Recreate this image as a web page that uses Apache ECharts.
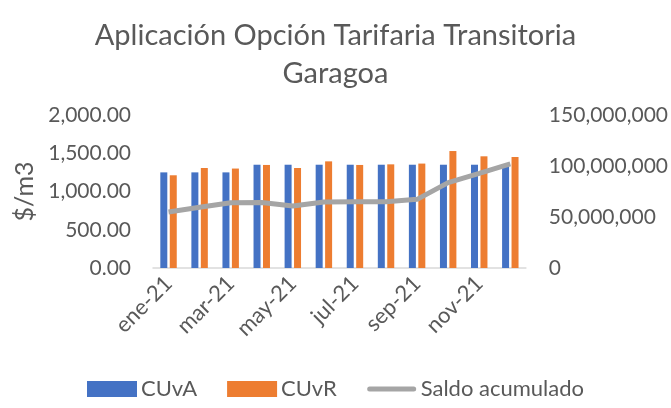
<!DOCTYPE html>
<html>
<head>
	<meta charset="UTF-8">
	<title>Garagoa</title>
	<script src="https://cdn.jsdelivr.net/npm/echarts@6/dist/echarts.min.js"></script>
	<style>
		html, body { margin: 0; padding: 0; background: #fff; }
		#main { width: 671px; height: 408px; }
	</style>
</head>
<body>
<div id="main"></div>
<script>
	var meses = ['ene-21', 'feb-21', 'mar-21', 'abr-21', 'may-21', 'jun-21',
		'jul-21', 'ago-21', 'sep-21', 'oct-21', 'nov-21', 'dic-21'];
	var cuva = [1250, 1250, 1250, 1350, 1350, 1350, 1350, 1350, 1350, 1350, 1350, 1350];
	var cuvr = [1212, 1307, 1300, 1347, 1307, 1394, 1347, 1355, 1365, 1529, 1460, 1451];
	var saldo = [54900000, 59500000, 64000000, 64300000, 60800000, 64700000,
		64900000, 65000000, 67300000, 83700000, 92800000, 102000000];

	var gris = '#595959';
	var fuente = 'Lato';

	var myChart = echarts.init(document.getElementById('main'));

	// icono de linea para la leyenda (sin el circulo)
	var iconoLinea = 'path://M0,0h0.1v0.1h-0.1z M49.9,15.9h0.1v0.1h-0.1z M3,5.5 L47,5.5 A2.5,2.5 0 0 1 47,10.5 L3,10.5 A2.5,2.5 0 0 1 3,5.5 Z';

	var option = {
		animation: false,
		textStyle: { fontFamily: fuente },
		title: {
			text: 'Aplicación Opción Tarifaria Transitoria\nGaragoa',
			left: 'center',
			top: 12,
			textStyle: { color: gris, fontSize: 29, fontWeight: 'normal', lineHeight: 38, fontFamily: fuente }
		},
		legend: {
			bottom: 3,
			left: 'center',
			itemWidth: 50,
			itemHeight: 16,
			itemGap: 30,
			textStyle: { color: gris, fontSize: 22, fontFamily: fuente, padding: [0, 0, 0, -1] },
			data: [
				{ name: 'CUvA', icon: 'rect' },
				{ name: 'CUvR', icon: 'rect' },
				{ name: 'Saldo acumulado', icon: iconoLinea }
			]
		},
		grid: { left: 153, right: 145, top: 115, bottom: 140 },
		xAxis: {
			type: 'category',
			data: meses,
			axisLine: { lineStyle: { color: '#d9d9d9', width: 1.5 } },
			axisTick: { interval: 1, length: 8, lineStyle: { color: '#d9d9d9', width: 1.5 } },
			axisLabel: { interval: 1, rotate: 45, color: gris, fontSize: 22, margin: 12 }
		},
		yAxis: [
			{
				type: 'value',
				min: 0, max: 2000, interval: 500,
				name: '$/m3',
				nameLocation: 'middle',
				nameRotate: 90,
				nameGap: 112,
				nameTextStyle: { color: gris, fontSize: 25 },
				splitLine: { show: false },
				axisLine: { show: false },
				axisTick: { show: false },
				axisLabel: {
					color: gris, fontSize: 21, margin: 22,
					formatter: function (v) {
						return v.toLocaleString('en-US', { minimumFractionDigits: 2, maximumFractionDigits: 2 });
					}
				}
			},
			{
				type: 'value',
				min: 0, max: 150000000, interval: 50000000,
				splitLine: { show: false },
				axisLine: { show: false },
				axisTick: { show: false },
				axisLabel: {
					color: gris, fontSize: 21, margin: 23,
					formatter: function (v) { return v.toLocaleString('en-US'); }
				}
			}
		],
		series: [
			{
				name: 'CUvA',
				type: 'bar',
				data: cuva,
				barWidth: 7,
				barGap: '35%',
				itemStyle: { color: '#4472c4' }
			},
			{
				name: 'CUvR',
				type: 'bar',
				data: cuvr,
				barWidth: 7,
				itemStyle: { color: '#ed7d31' }
			},
			{
				name: 'Saldo acumulado',
				type: 'line',
				yAxisIndex: 1,
				data: saldo,
				symbol: 'none',
				lineStyle: { color: '#a5a5a5', width: 5 },
				itemStyle: { color: '#a5a5a5' }
			}
		]
	};

	myChart.setOption(option);
</script>
</body>
</html>
